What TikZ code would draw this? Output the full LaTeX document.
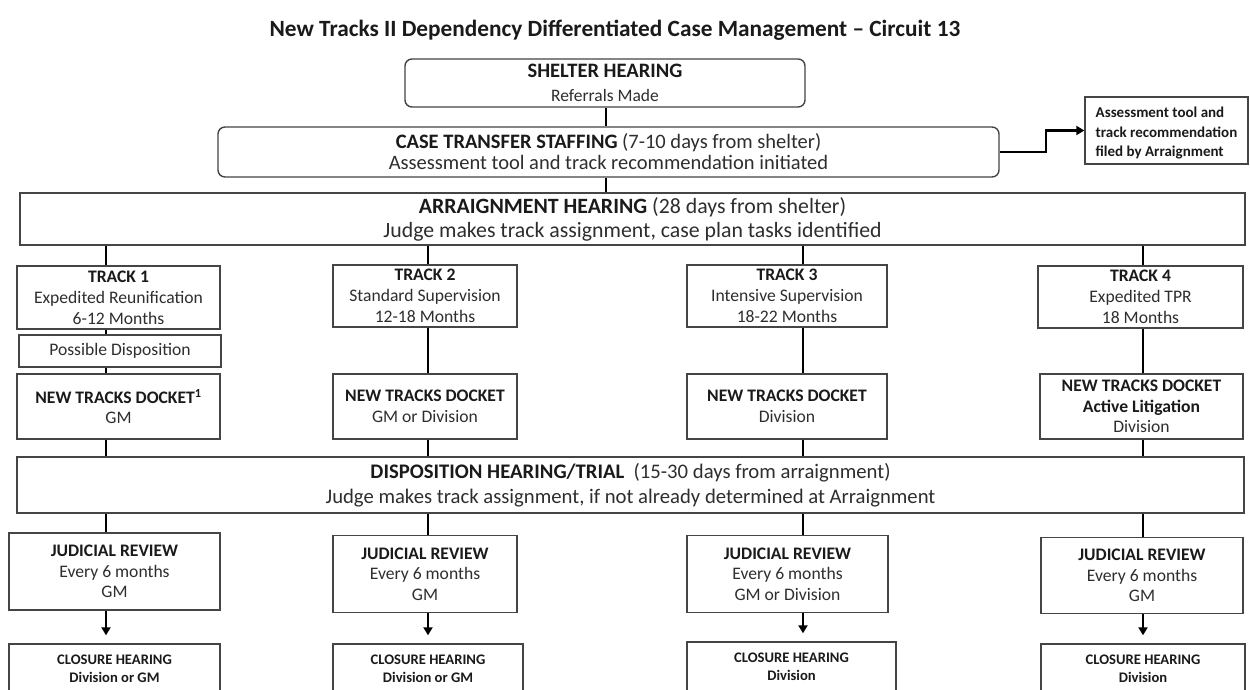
\documentclass[tikz,border=0pt]{standalone}
\usepackage{fontspec}
\setmainfont{Carlito}
\usetikzlibrary{arrows.meta}
\definecolor{boxline}{HTML}{454545}
\definecolor{txt}{HTML}{2E2E2E}
\definecolor{btxt}{HTML}{1A1A1A}
\newcommand{\fTitle}{\fontsize{23.3pt}{26pt}\selectfont}
\newcommand{\fCts}{\fontsize{20.5pt}{21pt}\selectfont}
\newcommand{\fArr}{\fontsize{21.8pt}{24pt}\selectfont}
\newcommand{\fDisp}{\fontsize{20.7pt}{25pt}\selectfont}
\newcommand{\fShel}{\fontsize{20.5pt}{24pt}\selectfont}
\newcommand{\fShelSub}{\fontsize{17.5pt}{24pt}\selectfont}
\newcommand{\fMid}{\fontsize{17.6pt}{21pt}\selectfont}
\newcommand{\fDock}{\fontsize{17.6pt}{20.5pt}\selectfont}
\newcommand{\fSmall}{\fontsize{14.6pt}{18pt}\selectfont}
\newcommand{\fSide}{\fontsize{15pt}{19.5pt}\selectfont}
\newcommand{\hb}[1]{\textbf{\color{btxt}#1}}
\tikzset{
  box/.style={draw=boxline, line width=1.4pt, align=center, inner sep=0pt, text=txt, fill=white},
  rbox/.style={box, rounded corners=7pt},
  conn/.style={draw=black, line width=2.3pt},
  arr/.style={conn, -{Triangle[length=8pt,width=9pt]}}
}
\begin{document}
\begin{tikzpicture}[x=1pt,y=-1pt]
\useasboundingbox (0,0) rectangle (1250,690);
\clip (0,0) rectangle (1250,690);
\fill[white] (0,0) rectangle (1250,690);
% column coordinates
\coordinate (c1) at (106,0);
\coordinate (c2) at (428,0);
\coordinate (c3) at (803,0);
\coordinate (c4) at (1143,0);
\coordinate (c0) at (606,0);

\node[text=btxt, font=\fTitle\bfseries] (title) at (615,30) {New Tracks II Dependency Differentiated Case Management – Circuit 13};

\node[rbox, minimum width=400pt, minimum height=48pt, font=\fShel] (shelter) at (605,83)
  {\hb{SHELTER HEARING}\\{\fShelSub Referrals Made}};
\node[rbox, minimum width=781pt, minimum height=50pt, font=\fCts] (cts) at (608.5,152)
  {\hb{CASE TRANSFER STAFFING} (7-10 days from shelter)\\Assessment tool and track recommendation initiated};
\node[box, minimum width=163pt, minimum height=67pt] (side) at (1166.5,130.5) {};
\node[font=\fSide\bfseries, align=left, text=btxt, inner sep=0pt] (sidetext) at ([yshift=-3pt]side.center)
  {Assessment tool and\\track recommendation\\filed by Arraignment};
\node[box, minimum width=1225pt, minimum height=52pt, font=\fArr] (arrg) at (632.5,219)
  {\hb{ARRAIGNMENT HEARING} (28 days from shelter)\\Judge makes track assignment, case plan tasks identified};

% tracks
\node[box, minimum width=203pt, minimum height=63pt, font=\fMid] (t1) at (118.5,297.5)
  {\hb{TRACK 1}\\Expedited Reunification\\6-12 Months};
\node[box, minimum width=184pt, minimum height=62pt, font=\fMid] (t2) at (425,296)
  {\hb{TRACK 2}\\Standard Supervision\\12-18 Months};
\node[box, minimum width=200pt, minimum height=62pt, font=\fMid] (t3) at (787,296)
  {\hb{TRACK 3}\\Intensive Supervision\\18-22 Months};
\node[box, minimum width=205pt, minimum height=62pt, font=\fMid] (t4) at (1140.5,297)
  {\hb{TRACK 4}\\Expedited TPR\\18 Months};

\node[box, minimum width=202pt, minimum height=32pt, font=\fMid] (pd) at (120,351) {Possible Disposition};

% dockets
\node[box, minimum width=203pt, minimum height=65pt, font=\fDock] (n1) at (118.5,406.5)
  {\hb{NEW TRACKS DOCKET\textsuperscript{1}}\\GM};
\node[box, minimum width=184pt, minimum height=65pt, font=\fDock] (n2) at (425,406.5)
  {\hb{NEW TRACKS DOCKET}\\GM or Division};
\node[box, minimum width=200pt, minimum height=65pt, font=\fDock] (n3) at (787,406.5)
  {\hb{NEW TRACKS DOCKET}\\Division};
\node[box, minimum width=203pt, minimum height=65pt, font=\fDock] (n4) at (1141.5,406.5)
  {\hb{NEW TRACKS DOCKET}\\\hb{Active Litigation}\\Division};

\node[box, minimum width=1227pt, minimum height=56pt, font=\fDisp] (disp) at (630.5,485)
  {\hb{DISPOSITION HEARING/TRIAL} ~(15-30 days from arraignment)\\Judge makes track assignment, if not already determined at Arraignment};

% judicial reviews
\node[box, minimum width=211pt, minimum height=77pt, font=\fDock] (j1) at (114.5,571.5)
  {\hb{JUDICIAL REVIEW}\\Every 6 months\\GM};
\node[box, minimum width=184pt, minimum height=77pt, font=\fDock] (j2) at (425,574)
  {\hb{JUDICIAL REVIEW}\\Every 6 months\\GM};
\node[box, minimum width=201pt, minimum height=77pt, font=\fDock] (j3) at (787.5,574)
  {\hb{JUDICIAL REVIEW}\\Every 6 months\\GM or Division};
\node[box, minimum width=202pt, minimum height=76pt, font=\fDock] (j4) at (1142,575.5)
  {\hb{JUDICIAL REVIEW}\\Every 6 months\\GM};

% closure hearings
\node[box, minimum width=211pt, minimum height=50pt, font=\fSmall\bfseries, text=btxt] (h1) at (114.5,669)
  {CLOSURE HEARING\\Division or GM};
\node[box, minimum width=190pt, minimum height=50pt, font=\fSmall\bfseries, text=btxt] (h2) at (428,669)
  {CLOSURE HEARING\\Division or GM};
\node[box, minimum width=209pt, minimum height=50pt, font=\fSmall\bfseries, text=btxt] (h3) at (791.5,667)
  {CLOSURE HEARING\\Division};
\node[box, minimum width=204pt, minimum height=50pt, font=\fSmall\bfseries, text=btxt] (h4) at (1143,669)
  {CLOSURE HEARING\\Division};

% connectors
\draw[conn] (shelter.south -| c0) -- (cts.north -| c0);
\draw[conn] (cts.south -| c0) -- (arrg.north -| c0);
\draw[arr] (cts.east) -- ++(46,0) |- (side.west);

\draw[conn] (arrg.south -| c1) -- (t1.north -| c1);
\draw[conn] (t1.south -| c1) -- (pd.north -| c1);
\draw[conn] (pd.south -| c1) -- (n1.north -| c1);
\draw[conn] (n1.south -| c1) -- (disp.north -| c1);
\draw[conn] (disp.south -| c1) -- (j1.north -| c1);
\draw[arr] (j1.south -| c1) -- ([yshift=8pt]h1.north -| c1);

\foreach \i in {2,3,4}{
  \draw[conn] (arrg.south -| c\i) -- (t\i.north -| c\i);
  \draw[conn] (t\i.south -| c\i) -- (n\i.north -| c\i);
  \draw[conn] (n\i.south -| c\i) -- (disp.north -| c\i);
  \draw[conn] (disp.south -| c\i) -- (j\i.north -| c\i);
  \draw[arr] (j\i.south -| c\i) -- ([yshift=8pt]h\i.north -| c\i);
}
\end{tikzpicture}
\end{document}
